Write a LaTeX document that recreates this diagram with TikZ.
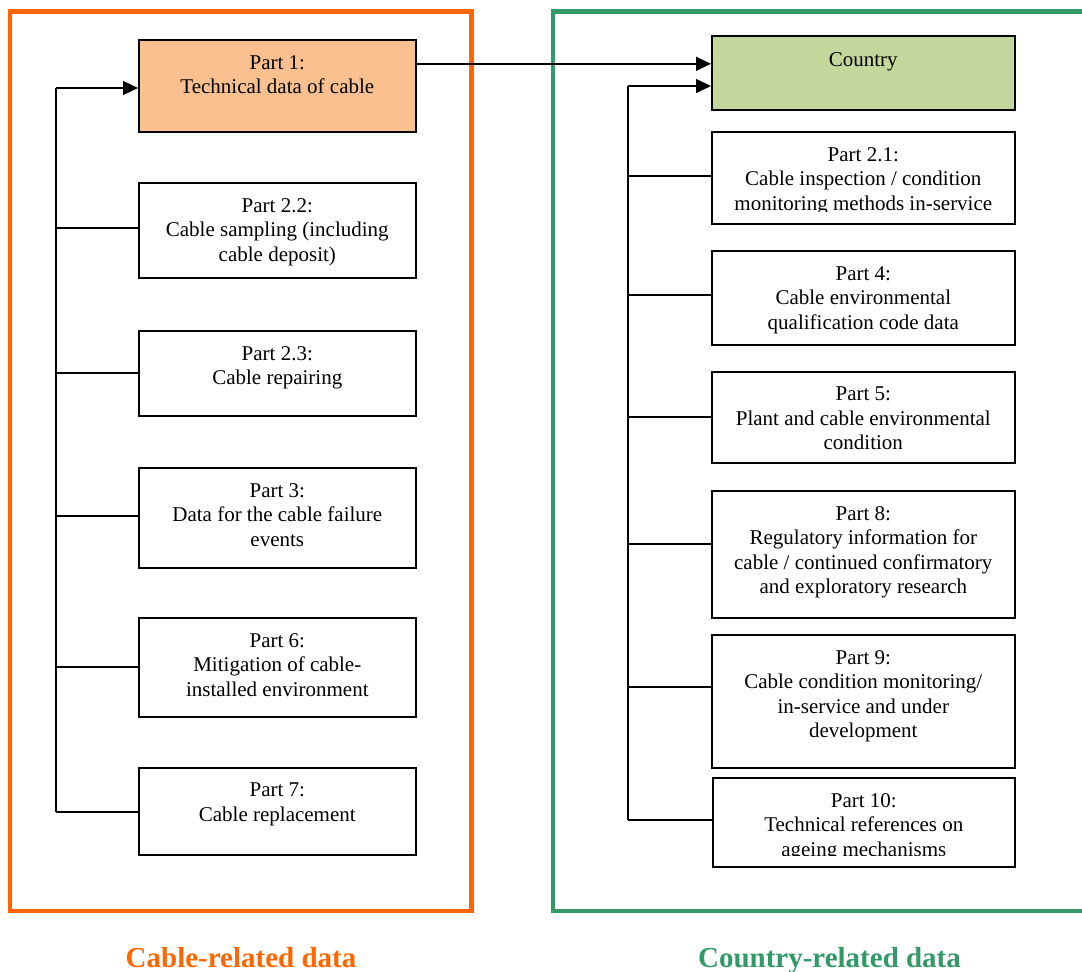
\documentclass[tikz,border=0pt]{standalone}
\usepackage{fontspec}
\setmainfont{Liberation Serif}
\usetikzlibrary{arrows.meta,calc}
\definecolor{frameorange}{HTML}{FF6600}
\definecolor{framegreen}{HTML}{339966}
\definecolor{partfill}{HTML}{FAC090}
\definecolor{countryfill}{HTML}{C3D69B}
\tikzset{
  partbox/.style={draw=black, line width=1.6pt, inner sep=0pt, anchor=north west, fill=white},
  lbox/.style={partbox, minimum width=277pt},
  rbox/.style={partbox, minimum width=303pt},
  boxtext/.style={anchor=north, inner sep=0pt, align=center, font=\fontsize{21}{24.5}\selectfont},
  conn/.style={line width=1.4pt},
  arr/.style={conn, -{Triangle[length=15pt,width=14pt]}},
  frameline/.style={line width=4.7pt},
  grouplabel/.style={anchor=base, inner sep=0pt, font=\fontsize{29}{34}\selectfont\bfseries},
}
\begin{document}
\begin{tikzpicture}[x=1pt,y=1pt]
\useasboundingbox (0,0) rectangle (1082,-972);
% frames
\draw[frameline, frameorange] (10,-11.5) rectangle (471.5,-911);
\draw[frameline, framegreen] (1092,-11.5) -- (553,-11.5) -- (553,-911) -- (1092,-911);
% left boxes
\node[lbox, fill=partfill, minimum height=92pt] (p1) at (138,-39) {};
\node[boxtext] (p1t) at ([yshift=-16pt]p1.north) {Part 1:\\Technical data of cable};
\node[lbox, minimum height=95pt] (p22) at (138,-182) {};
\node[boxtext] (p22t) at ([yshift=-16pt]p22.north) {Part 2.2:\\Cable sampling (including\\cable deposit)};
\node[lbox, minimum height=85pt] (p23) at (138,-330) {};
\node[boxtext] (p23t) at ([yshift=-16pt]p23.north) {Part 2.3:\\Cable repairing};
\node[lbox, minimum height=100pt] (p3) at (138,-467) {};
\node[boxtext] (p3t) at ([yshift=-16pt]p3.north) {Part 3:\\Data for the cable failure\\events};
\node[lbox, minimum height=99pt] (p6) at (138,-617) {};
\node[boxtext] (p6t) at ([yshift=-16pt]p6.north) {Part 6:\\Mitigation of cable-\\installed environment};
\node[lbox, minimum height=87pt] (p7) at (138,-767) {};
\node[boxtext] (p7t) at ([yshift=-16pt]p7.north) {Part 7:\\Cable replacement};
% right boxes
\node[rbox, fill=countryfill, minimum height=74pt] (cty) at (711,-35) {};
\node[boxtext] (ctyt) at ([yshift=-17pt]cty.north) {Country};
\node[rbox, minimum height=92pt] (p21) at (711,-131) {};
\begin{scope}
\clip (711,-131) rectangle (1015,-211);
\node[boxtext] (p21t) at ([yshift=-16pt]p21.north) {Part 2.1:\\Cable inspection / condition\\monitoring methods in-service};
\end{scope}
\node[rbox, minimum height=94pt] (p4) at (711,-250) {};
\node[boxtext] (p4t) at ([yshift=-16pt]p4.north) {Part 4:\\Cable environmental\\qualification code data};
\node[rbox, minimum height=91pt] (p5) at (711,-371) {};
\node[boxtext] (p5t) at ([yshift=-16pt]p5.north) {Part 5:\\Plant and cable environmental\\condition};
\node[rbox, minimum height=127pt] (p8) at (711,-490) {};
\node[boxtext] (p8t) at ([yshift=-16pt]p8.north) {Part 8:\\Regulatory information for\\cable / continued confirmatory\\and exploratory research};
\node[rbox, minimum height=133pt] (p9) at (711,-634) {};
\node[boxtext] (p9t) at ([yshift=-16pt]p9.north) {Part 9:\\Cable condition monitoring/\\in-service and under\\development};
\node[rbox, minimum width=302pt, minimum height=89pt] (p10) at (712,-777) {};
\begin{scope}
\clip (712,-777) rectangle (1015,-855.5);
\node[boxtext] (p10t) at ([yshift=-16pt]p10.north) {Part 10:\\Technical references on\\ageing mechanisms};
\end{scope}
% left connectors
\coordinate (lt) at (56,-88);
\coordinate (lb) at (56,-812);
\draw[conn] (lt) -- (lb);
\draw[arr] (lt) -- (lt -| p1.west);
\draw[conn] (56,-228) -- (p22.west |- 0,-228);
\draw[conn] (56,-373) -- (p23.west |- 0,-373);
\draw[conn] (56,-516) -- (p3.west |- 0,-516);
\draw[conn] (56,-667) -- (p6.west |- 0,-667);
\draw[conn] (lb) -- (p7.west |- lb);
% cross connector
\draw[arr] ([yshift=22pt]p1.east) -- ([yshift=22pt]p1.east -| cty.west);
% right connectors
\coordinate (rt) at (628,-86);
\coordinate (rb) at (628,-820);
\draw[conn] (rt) -- (rb);
\draw[arr] (rt) -- (rt -| cty.west);
\draw[conn] (628,-176) -- (p21.west |- 0,-176);
\draw[conn] (628,-295) -- (p4.west |- 0,-295);
\draw[conn] (628,-417) -- (p5.west |- 0,-417);
\draw[conn] (628,-544) -- (p8.west |- 0,-544);
\draw[conn] (628,-687) -- (p9.west |- 0,-687);
\draw[conn] (rb) -- (p10.west |- rb);
% group labels
\node[grouplabel, text=frameorange] (lab1) at (241,-967) {Cable-related data};
\node[grouplabel, text=framegreen] (lab2) at (829.5,-967) {Country-related data};
\end{tikzpicture}
\end{document}
